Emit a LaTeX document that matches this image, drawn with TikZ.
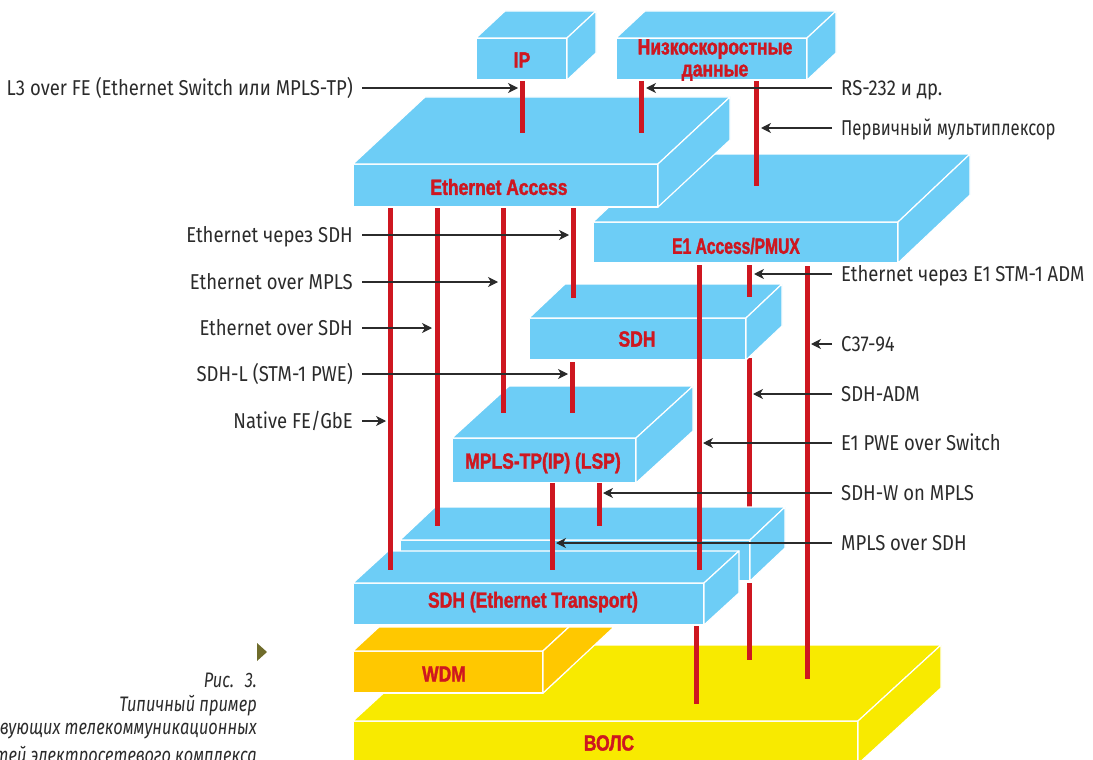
\documentclass[tikz,border=0pt]{standalone}
\usepackage{fontspec}
\setmainfont{Fira Sans}
\newfontfamily\notefont[FakeStretch=0.86]{Fira Sans}
\newfontfamily\notenarrow[FakeStretch=0.777]{Fira Sans}
\newfontfamily\slabfont[FakeStretch=0.795,FakeBold=1.6]{Liberation Sans Bold}
\newfontfamily\slabnarrow[FakeStretch=0.71,FakeBold=1.6]{Liberation Sans Bold}
\newfontfamily\capfont[FakeStretch=0.78,ItalicFont={Fira Sans Italic}]{Fira Sans}
\usetikzlibrary{arrows.meta,calc,positioning}
\definecolor{slabBlue}{HTML}{6DCDF6}
\definecolor{slabOrange}{HTML}{FFC800}
\definecolor{slabYellow}{HTML}{F8EA00}
\definecolor{barRed}{HTML}{CE1720}
\definecolor{noteInk}{HTML}{2B2B2B}
\definecolor{markOlive}{HTML}{6F6C2B}
\newcommand{\slab}[7]{%
\path[slabface,fill=#7] (#1,#2) rectangle (#3,#4);
\path[slabface,fill=#7] (#1,#2) -- ++(#5,#6) -- ++({#3-#1},0) -- (#3,#2) -- cycle;
\path[slabface,fill=#7] (#3,#2) -- ++(#5,#6) -- ++(0,{#4-#2}) -- (#3,#4) -- cycle;}
\newcommand{\bars}[1]{%
\foreach \nm/\xx/\ya/\yb in {#1}{\coordinate (\nm a) at (\xx,\ya); \coordinate (\nm b) at (\xx,\yb); \draw[bar] (\nm a) -- (\nm b);}}
\begin{document}
\begin{tikzpicture}[x=1pt,y=-1pt,>=Latex,line join=round]
\useasboundingbox (0,0) rectangle (1093,760);
\tikzset{slabface/.style={draw=white,line width=1.2pt},
bar/.style={draw=barRed,line width=5pt},
slabtext/.style={text=barRed,font=\slabfont\fontsize{22}{22}\selectfont,align=center,inner sep=0pt},
lnote/.style={anchor=east,text=noteInk,font=\notefont\fontsize{21.5}{22}\selectfont,inner xsep=9pt,inner ysep=0pt,text height=15pt,text depth=0pt},
rnote/.style={anchor=west,text=noteInk,font=\notefont\fontsize{21.5}{22}\selectfont,inner xsep=9pt,inner ysep=0pt,text height=15pt,text depth=0pt},
arrow/.style={draw=noteInk,line width=1.1pt,-{Stealth[length=10pt,width=10pt,inset=3pt]}},
capline/.style={anchor=east,text=noteInk,font=\capfont\itshape\fontsize{21}{22}\selectfont,inner sep=0pt}}
% bottom of the stack
\slab{353}{721}{858}{764}{83}{-76}{slabYellow}
\slab{353}{651}{543}{693}{26}{-24}{slabOrange}
\path[slabface,fill=slabOrange] (543,651) -- (569,627) -- (614,627) -- (543,693) -- cycle;
\node[slabtext] (wdm) at (444,674) {WDM};
\node[slabtext] (fibre) at (609,743) {ВОЛС};
\bars{lowadm/749/583/660, wave/696.5/626/704, relay/807/266/679}
% middle of the stack
\bars{sdhadm/749/358/526}
\slab{400}{540}{750}{581}{35}{-33}{slabBlue}
\slab{353}{583}{704}{625}{35}{-32}{slabBlue}
\node[slabtext] (transport) at (533,602) {SDH (Ethernet Transport)};
\slab{529}{318}{746}{360}{36}{-34}{slabBlue}
\node[slabtext] (sdh) at (637,339) {SDH};
\slab{452}{438}{636}{483}{57}{-52}{slabBlue}
\node[slabtext] (mpls) at (543,463) {MPLS-TP(IP) (LSP)};
% top of the stack
\slab{593}{222}{898}{263}{72}{-68}{slabBlue}
\node[slabtext] (pmux) at (736,246) {\slabnarrow E1 Access/PMUX};
\bars{mux/756/81/186}
\slab{353}{164}{658}{207}{72}{-67}{slabBlue}
\node[slabtext] (access) at (499,187) {Ethernet Access};
\slab{476}{38}{567}{80}{29}{-27}{slabBlue}
\node[slabtext] (ip) at (522,60) {IP};
\slab{616}{38}{807}{80}{29}{-27}{slabBlue}
\node[slabtext] (lowrate) at (715,60) {Низкоскоростные\\данные};
\bars{ipup/522.5/81/133, rsup/641/81/133, native/390/208/570, eosdh/437/208/526, eompls/503/208/413, ethsdh/573/208/298, sdhl/572/362/413, pwe/699/265/570, ethadm/749/265/297, lsp/552.5/483/570, sdhw/599.5/483/526}
% notes on the left
\foreach \nm/\yy/\tipx/\txt in {lthree/88/518/L3 over FE (Ethernet Switch или MPLS-TP), viasdh/235/569/Ethernet через SDH, overmpls/282/498/Ethernet over MPLS, oversdh/328/432/Ethernet over SDH, sdhlpwe/374/568/SDH-L (STM-1 PWE), nativefe/421/386/{Native FE/GbE}}{
\node[lnote] (\nm) at (362,\yy) {\txt};
\coordinate (\nm tip) at (\tipx,\yy);
\draw[arrow] (\nm.east) -- (\nm tip);}
% notes on the right
\foreach \nm/\yy/\tipx/\txt in {rsnote/88/646/RS-232 и др., muxnote/128/761/{\notenarrow Первичный мультиплексор}, adm/274/754/Ethernet через E1 STM-1 ADM, cthree/344/811/C37-94, admnote/394/753/SDH-ADM, pwenote/443/703/E1 PWE over Switch, wnote/493/603/SDH-W on MPLS, mplsnote/543/556/MPLS over SDH}{
\node[rnote] (\nm) at (832,\yy) {\txt};
\coordinate (\nm tip) at (\tipx,\yy);
\draw[arrow] (\nm.west) -- (\nm tip);}
% caption
\path[fill=markOlive] (257,643) -- (267,652) -- (257,661) -- cycle;
\node[capline] (cap1) at (257,680) {Рис.\hspace{5pt} 3.};
\node[capline] (cap2) at (257,706) {Типичный пример};
\node[capline] (cap3) at (257,731) {вующих телекоммуникационных};
\node[capline] (cap4) at (257,757) {тей электросетевого комплекса};
\end{tikzpicture}
\end{document}
